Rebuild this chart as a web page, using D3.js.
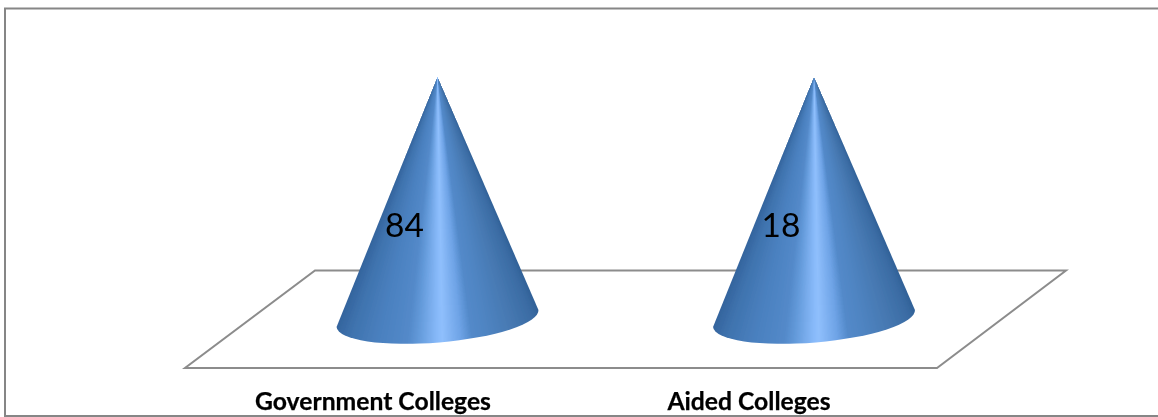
<!DOCTYPE html>
<html><head><meta charset="utf-8">
<script src="https://cdnjs.cloudflare.com/ajax/libs/d3/7.8.5/d3.min.js"></script>
<style>html,body{margin:0;padding:0;background:#fff}svg{display:block}</style></head>
<body><svg id="c" width="1158" height="417"></svg>
<script>
const categories = ["Government Colleges", "Aided Colleges"];
const values = [84, 18];
// 100% stacked column: each single-series cone fills the axis
const shares = values.map(v => v / v * 100);

const svg = d3.select("#c");
const x = d3.scalePoint().domain(categories).range([437.5, 814]);
const y = d3.scaleLinear().domain([0, 100]).range([318.5, 76.5]);

const defs = svg.append("defs");
defs.append("filter").attr("id", "soft").append("feGaussianBlur").attr("stdDeviation", 0.5);

// frame
svg.append("path").attr("d", "M1158,8.5H5V416H1158").attr("fill", "none").attr("stroke", "#868686").attr("stroke-width", 2);

const g = svg.append("g").attr("filter", "url(#soft)");

// floor
g.append("path").attr("d", "M315,270.5H1066L937,368H185Z").attr("fill", "#fff").attr("stroke", "#8c8c8c").attr("stroke-width", 2);

// cone shading across the width (-1 left edge, +1 right edge)
const shade = d3.scaleLinear()
  .domain([-1, -0.82, -0.55, -0.28, -0.2, 0.0, 0.04, 0.2, 0.3, 0.42, 0.7, 0.9, 1])
  .range(["#33639c", "#3f73ae", "#4a80bf", "#5389c9", "#5f96d6", "#88bafa", "#8fbffc", "#6ea3e6", "#5289c9", "#5085c3", "#4577b0", "#3a6ba3", "#2f5f95"])
  .interpolate(d3.interpolateRgb);

const rx = 101.3, ry = 24, tiltDeg = -4.8, tilt = tiltDeg * Math.PI / 180;
const steps = d3.range(-1, 1, 0.005);

categories.forEach((cat, i) => {
  const cx = x(cat), base = y(0), top = y(shares[i]);
  const lx = cx - rx * Math.cos(tilt), ly = base - rx * Math.sin(tilt);
  const rxp = cx + rx * Math.cos(tilt), ryp = base + rx * Math.sin(tilt);
  const outline = `M${cx},${top}L${lx},${ly}A${rx},${ry} ${tiltDeg} 0 0 ${rxp},${ryp}Z`;
  const id = "clip" + i;
  defs.append("clipPath").attr("id", id).append("path").attr("d", outline);
  const cone = g.append("g").attr("clip-path", `url(#${id})`).attr("shape-rendering", "crispEdges");
  const drop = 290;
  const spread = t => cx + t * (t < 0 ? 118 : 127);
  cone.selectAll("path").data(steps).join("path")
    .attr("d", t => `M${cx},${top}L${spread(t)},${top + drop}L${spread(t + 0.007)},${top + drop}Z`)
    .attr("fill", t => shade(t));
});

// category labels
svg.selectAll("text.cat").data(categories).join("text").attr("class", "cat")
  .attr("x", (d, i) => [373, 749][i]).attr("y", 410)
  .attr("text-anchor", "middle")
  .attr("font-family", "Lato").attr("font-weight", 700).attr("font-size", 24.7)
  .attr("fill", "#000").attr("stroke", "#000").attr("stroke-width", 0.25)
  .text(d => d);

// data labels
svg.selectAll("text.val").data(values).join("text").attr("class", "val")
  .attr("x", (d, i) => x(categories[i]) - 33).attr("y", 237)
  .attr("text-anchor", "middle")
  .attr("font-family", "Lato").attr("font-size", 33.5).attr("fill", "#000")
  .text(d => d);
</script></body></html>
